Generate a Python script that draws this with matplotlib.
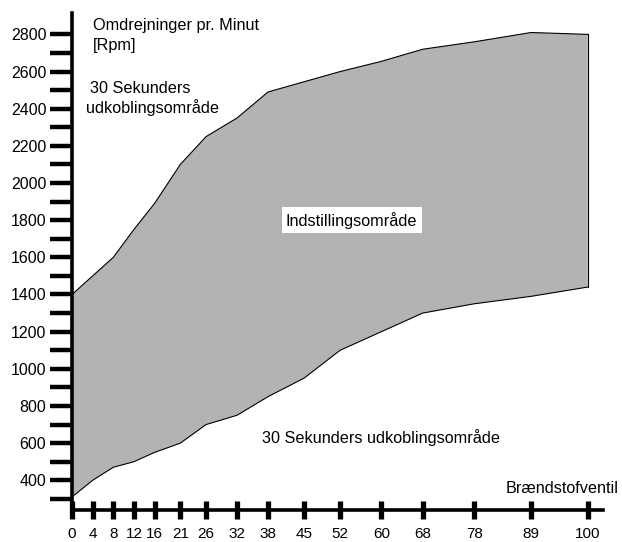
import numpy as np
import matplotlib
matplotlib.use("Agg")
import matplotlib.pyplot as plt

plt.rcParams['font.family'] = ['Liberation Sans', 'DejaVu Sans']

# fuel valve position (x) and rpm band
valve = [0, 4, 8, 12, 16, 21, 26, 32, 38, 45, 52, 60, 68, 78, 89, 100]
rpm_upper = [1400, 1500, 1600, 1750, 1890, 2100, 2250, 2350, 2490, 2545, 2600, 2655, 2720, 2760, 2810, 2800]
rpm_lower = [310, 400, 470, 500, 550, 600, 700, 750, 850, 950, 1100, 1200, 1300, 1350, 1390, 1440]

y_major = list(range(400, 2801, 200))
y_all = list(range(300, 2801, 100))

fig = plt.figure(figsize=(6.22, 5.42), dpi=100)
ax = fig.add_axes([0.1158, 0.059, 0.854, 0.917])

# band between the two limits
ax.fill_between(valve, rpm_lower, rpm_upper, facecolor='#b3b3b3', edgecolor='none', zorder=1)
ax.plot(valve, rpm_upper, color='black', lw=0.8, zorder=2)
ax.plot(valve, rpm_lower, color='black', lw=0.8, zorder=2)
ax.plot([valve[-1], valve[-1]], [rpm_lower[-1], rpm_upper[-1]], color='black', lw=0.8, zorder=2)

ax.set_xlim(0, 103)
ax.set_ylim(240, 2915)

for s in ['top', 'right']:
    ax.spines[s].set_visible(False)
ax.spines['left'].set_linewidth(2.6)
ax.spines['bottom'].set_linewidth(2.6)
ax.spines['left'].set_zorder(3)

ax.set_yticks(y_all)
ax.set_yticklabels([str(v) if v in y_major else '' for v in y_all], fontsize=11.5)
ax.tick_params(axis='y', direction='out', length=16, width=3.2, pad=2.5)

ax.set_xticks(valve)
ax.set_xticklabels([str(v) for v in valve], fontsize=11)
ax.tick_params(axis='x', direction='inout', length=13, width=3.8, pad=5.5)

ax.text(4.0, 2850, "Omdrejninger pr. Minut", fontsize=11.7, ha='left', va='center')
ax.text(4.0, 2742, "[Rpm]", fontsize=11.7, ha='left', va='center')
ax.text(3.5, 2511, "30 Sekunders", fontsize=11.7, ha='left', va='center')
ax.text(2.7, 2405, "udkoblingsområde", fontsize=11.7, ha='left', va='center')
ax.text(54.2, 1800, "Indstillingsområde", fontsize=11.7, ha='center', va='center',
        bbox=dict(facecolor='white', edgecolor='none', pad=3.0))
ax.text(36.9, 632, "30 Sekunders udkoblingsområde", fontsize=11.7, ha='left', va='center')
ax.text(106, 357, "Brændstofventil", fontsize=11.7, ha='right', va='center', clip_on=False)

plt.savefig("out.png", dpi=100)
plt.close()
